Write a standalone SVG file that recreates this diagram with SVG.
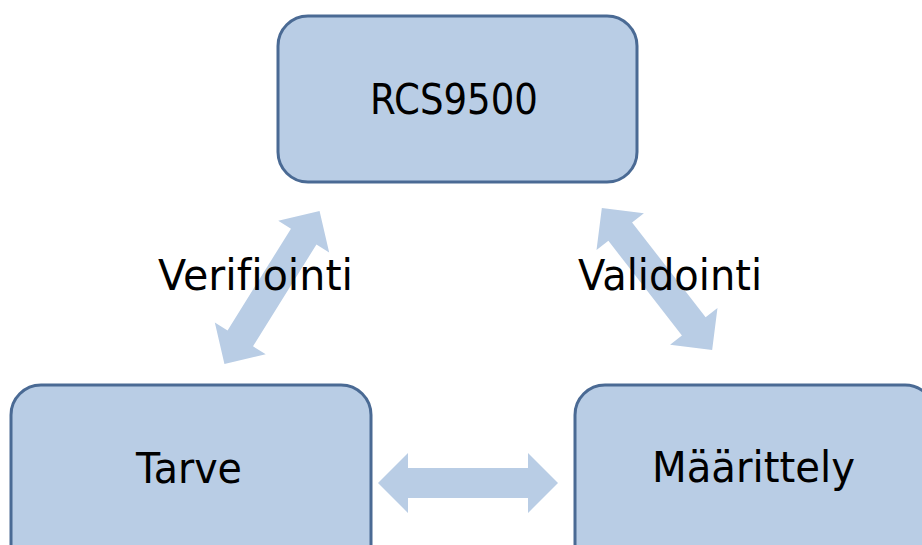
<svg xmlns="http://www.w3.org/2000/svg" width="922" height="545" viewBox="0 0 922 545">
<style>
.box{fill:#B9CDE5;stroke:#4A6A94;stroke-width:3}
.arr{fill:#B9CDE5}
.t{font-family:"DejaVu Sans",Verdana,sans-serif;font-size:43px;fill:#000;font-variant-ligatures:none;font-feature-settings:"liga" 0}
</style>
<defs>
<path id="dbl" d="M -90 0 L -60 -30 L -60 -15 L 60 -15 L 60 -30 L 90 0 L 60 30 L 60 15 L -60 15 L -60 30 Z"/>
</defs>
<rect width="922" height="545" fill="#fff"/>
<g id="connectors">
<use href="#dbl" class="arr" transform="translate(468 483)"/>
<use href="#dbl" class="arr" transform="translate(272 287.5) rotate(-58.1)"/>
<use href="#dbl" class="arr" transform="translate(657 279) rotate(52.2)"/>
<text class="t" x="158" y="290" textLength="195" lengthAdjust="spacingAndGlyphs">Verifiointi</text>
<text class="t" x="578" y="290" textLength="184" lengthAdjust="spacingAndGlyphs">Validointi</text>
</g>
<g id="node-rcs9500">
<rect class="box" x="278" y="16" width="359" height="166" rx="30"/>
<text class="t" x="370" y="114" textLength="168" lengthAdjust="spacingAndGlyphs">RCS9500</text>
</g>
<g id="node-tarve">
<rect class="box" x="11" y="385" width="360" height="190" rx="30"/>
<text class="t" x="136" y="483" textLength="106" lengthAdjust="spacingAndGlyphs">Tarve</text>
</g>
<g id="node-maarittely">
<rect class="box" x="575" y="385" width="360" height="190" rx="30"/>
<text class="t" x="652" y="482" textLength="203" lengthAdjust="spacingAndGlyphs">Määrittely</text>
</g>
</svg>
